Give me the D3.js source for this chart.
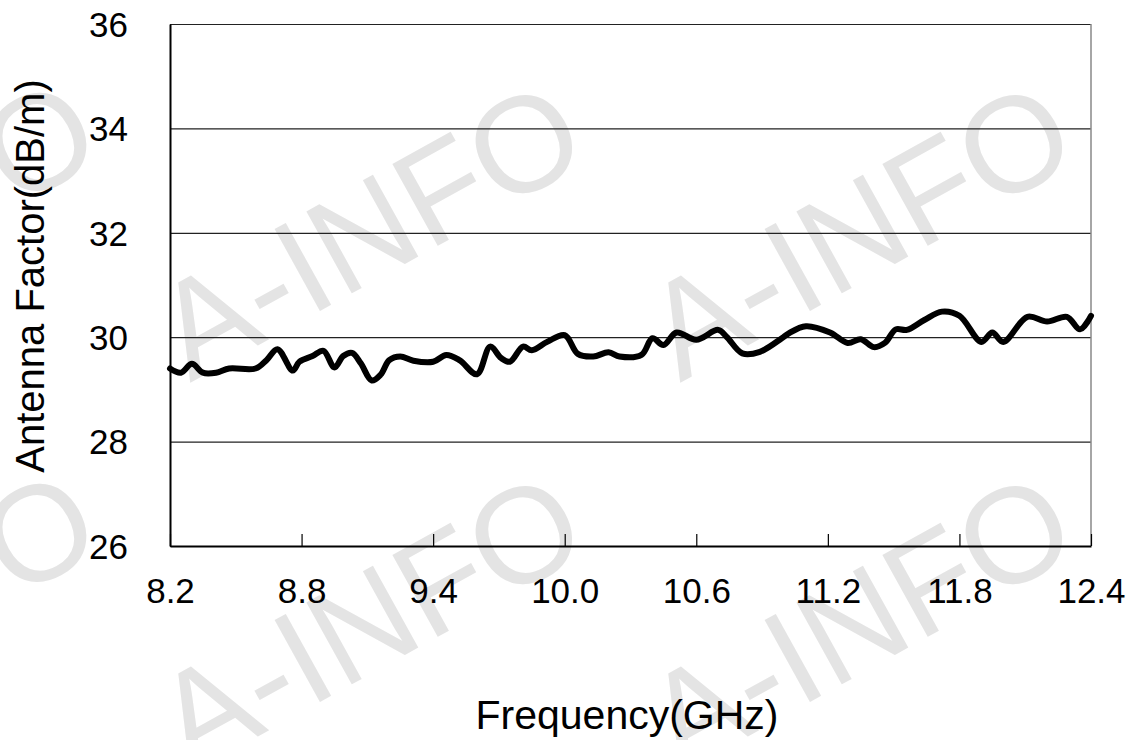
<!DOCTYPE html>
<html>
<head>
<meta charset="utf-8">
<script src="https://cdn.jsdelivr.net/npm/d3@7"></script>
<style>
  body { margin: 0; background: #fff; }
  text { font-family: "Liberation Sans", Arial, sans-serif; }
</style>
</head>
<body>
<div id="chart"></div>
<script>
// data
var freq = [8.20, 8.25, 8.30, 8.35, 8.41, 8.47, 8.59, 8.64, 8.69, 8.76, 8.79, 8.85, 8.90, 8.95,
            8.99, 9.03, 9.07, 9.12, 9.16, 9.20, 9.25, 9.31, 9.40, 9.46, 9.52, 9.60, 9.66, 9.71,
            9.75, 9.81, 9.85, 9.92, 10.00, 10.06, 10.13, 10.20, 10.25, 10.35, 10.40, 10.45,
            10.51, 10.60, 10.70, 10.74, 10.81, 10.89, 10.99, 11.02, 11.10, 11.21, 11.29, 11.35,
            11.41, 11.46, 11.51, 11.56, 11.64, 11.72, 11.80, 11.90, 11.95, 12.00, 12.11, 12.20,
            12.29, 12.35, 12.40];
var antennaFactor = [29.40, 29.32, 29.49, 29.32, 29.32, 29.40, 29.40, 29.56, 29.77, 29.36, 29.53, 29.64, 29.74, 29.42,
            29.64, 29.70, 29.50, 29.17, 29.28, 29.56, 29.63, 29.55, 29.53, 29.66, 29.56, 29.29, 29.82, 29.60,
            29.53, 29.82, 29.75, 29.91, 30.04, 29.68, 29.63, 29.71, 29.63, 29.66, 29.98, 29.85,
            30.09, 29.95, 30.14, 30.00, 29.69, 29.72, 29.98, 30.07, 30.21, 30.09, 29.89, 29.96,
            29.81, 29.89, 30.15, 30.14, 30.33, 30.49, 30.41, 29.91, 30.09, 29.91, 30.39, 30.30,
            30.39, 30.15, 30.41];
var xTicks = [8.2, 8.8, 9.4, 10.0, 10.6, 11.2, 11.8, 12.4];
var yTicks = [26, 28, 30, 32, 34, 36];

var W = 1129, H = 740;
var margin = {top: 24, right: 38, bottom: 194, left: 170};
var width = W - margin.left - margin.right,
    height = H - margin.top - margin.bottom;

var svg = d3.select("#chart").append("svg")
    .attr("width", W)
    .attr("height", H);

// watermark tiles (left column only shows the trailing "O")
var marks = [];
[-1, 0, 1].forEach(function(i) {
  [0, 1].forEach(function(j) { marks.push({x: 190 + 490 * i, y: 383 + 391 * j, edge: i < 0}); });
});
svg.append("g").selectAll("text").data(marks).enter()
  .append("text")
  .attr("transform", function(d) { return "translate(" + d.x + "," + d.y + ") rotate(-29)"; })
  .attr("x", function(d) { return d.edge ? 360 : 0; })
  .style("font-size", "136px")
  .style("fill", "#e4e4e4")
  .text(function(d) { return d.edge ? "O" : "A-INFO"; });

var x = d3.scaleLinear().domain([8.2, 12.4]).range([0, width]);
var y = d3.scaleLinear().domain([26, 36]).range([height, 0]);

var g = svg.append("g")
    .attr("transform", "translate(" + margin.left + "," + margin.top + ")");

// gridlines
g.append("g")
  .call(d3.axisLeft(y).tickValues(yTicks).tickSize(-width).tickFormat(""))
  .call(function(s) {
    s.select(".domain").remove();
    s.selectAll("line").style("stroke", "#222").style("stroke-width", 1.2);
  });

// right border
g.append("line")
  .attr("x1", width).attr("x2", width)
  .attr("y1", 0).attr("y2", height)
  .style("stroke", "#888")
  .style("stroke-width", 1.5);

// x axis
g.append("g")
  .attr("transform", "translate(0," + height + ")")
  .call(d3.axisBottom(x).tickValues(xTicks).tickSize(-12).tickSizeOuter(0).tickFormat(d3.format(".1f")))
  .call(function(s) {
    s.select(".domain").style("stroke", "#000").style("stroke-width", 2);
    s.selectAll("line").style("stroke", "#000").style("stroke-width", 1.2);
    s.selectAll("text").attr("y", 57).attr("dy", 0)
      .style("font-size", "35px").style("fill", "#000")
      .style("font-family", "Liberation Sans, Arial, sans-serif");
  });

// y axis
g.append("g")
  .call(d3.axisLeft(y).tickValues(yTicks).tickSize(0).tickSizeOuter(0))
  .call(function(s) {
    s.select(".domain").style("stroke", "#000").style("stroke-width", 2);
    s.selectAll("text").attr("x", -42).attr("dy", "0.35em")
      .style("font-size", "35px").style("fill", "#000")
      .style("font-family", "Liberation Sans, Arial, sans-serif");
  });

// data line
var line = d3.line()
  .x(function(d, i) { return x(freq[i]); })
  .y(function(d) { return y(d); })
  .curve(d3.curveCatmullRom.alpha(0.5));

g.append("path")
  .datum(antennaFactor)
  .attr("d", line)
  .style("fill", "none")
  .style("stroke", "#000")
  .style("stroke-width", 6)
  .style("stroke-linejoin", "round")
  .style("stroke-linecap", "round");

// axis titles
svg.append("text")
  .attr("x", 627)
  .attr("y", 729)
  .attr("text-anchor", "middle")
  .style("font-size", "41px")
  .text("Frequency(GHz)");

svg.append("text")
  .attr("transform", "translate(44,276) rotate(-90)")
  .attr("text-anchor", "middle")
  .style("font-size", "40px")
  .text("Antenna Factor(dB/m)");
</script>
</body>
</html>
